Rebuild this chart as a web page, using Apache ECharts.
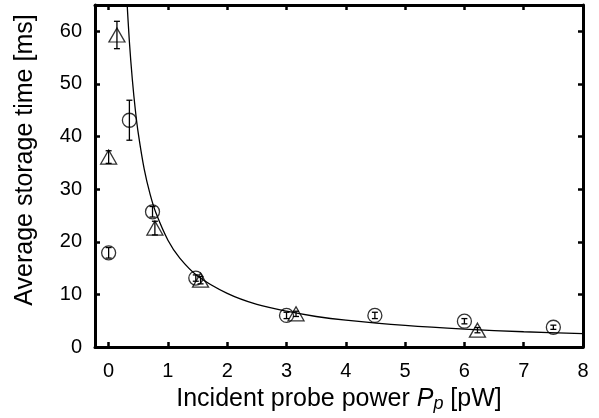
<!DOCTYPE html>
<html>
<head>
<meta charset="utf-8">
<script src="https://cdn.jsdelivr.net/npm/echarts@6/dist/echarts.min.js"></script>
<style>html,body{margin:0;padding:0;background:#fff}#c{width:599px;height:418px}</style>
</head>
<body>
<div id="c"></div>
<script>
// Circles (x, storage time, error)
var circleX = [0.0, 0.35, 0.74, 1.47, 3.0, 4.49, 6.0, 7.5];
var circleY = [17.9, 43.1, 25.7, 13.1, 6.0, 6.0, 4.9, 3.75];
var circleErr = [1.0, 3.8, 1.0, 0.6, 0.6, 0.6, 0.5, 0.4];
// Triangles
var triX = [0.0, 0.14, 0.78, 1.55, 3.16, 6.22];
var triY = [36.1, 59.3, 22.6, 12.7, 6.3, 3.2];
var triErr = [1.2, 2.6, 1.3, 0.7, 0.5, 0.5];
// Fit curve
var fitX = [0.30, 0.35, 0.4, 0.45, 0.5, 0.6, 0.7, 0.8, 1.0, 1.2, 1.5, 2.0, 2.5, 3.0, 3.5, 4.0, 5.0, 6.0, 7.0, 8.0];
var fitY = [67.5, 58, 50.8, 45.1, 40.6, 33.8, 29, 25.4, 20.3, 16.9, 13.5, 10.2, 8.1, 6.8, 5.8, 5.1, 4.1, 3.4, 2.9, 2.55];
// Tick labels
var xTicks = [0, 1, 2, 3, 4, 5, 6, 7, 8];
var yTicks = [0, 10, 20, 30, 40, 50, 60];
var yTitle = 'Average storage time [ms]';

var FONT = '"Liberation Sans", Arial, Helvetica, sans-serif';

function zip3(a, b, c) { return a.map(function (v, i) { return [v, b[i], c ? c[i] : 0]; }); }

function errRender(params, api) {
  var x = api.value(0), y = api.value(1), e = api.value(2);
  var t = api.coord([x, y + e]);
  var b = api.coord([x, y - e]);
  var hw = 3;
  var st = { stroke: '#000', lineWidth: 1.3 };
  return {
    type: 'group',
    children: [
      { type: 'line', shape: { x1: t[0], y1: t[1], x2: b[0], y2: b[1] }, style: st },
      { type: 'line', shape: { x1: t[0] - hw, y1: t[1], x2: t[0] + hw, y2: t[1] }, style: st },
      { type: 'line', shape: { x1: b[0] - hw, y1: b[1], x2: b[0] + hw, y2: b[1] }, style: st }
    ]
  };
}

var axLine = { show: true, onZero: false, lineStyle: { color: '#000', width: 3 } };
var axTick = function (vals) { return { show: true, inside: true, length: 5, customValues: vals, lineStyle: { color: '#000', width: 2.5 } }; };

var chart = echarts.init(document.getElementById('c'), null, { renderer: 'canvas' });
chart.setOption({
  animation: false,
  backgroundColor: '#fff',
  grid: { left: 95, right: 16, top: 5, bottom: 69, containLabel: false },
  graphic: [{
    type: 'text', x: 25, y: 160, rotation: Math.PI / 2,
    style: { text: yTitle, fill: '#000', font: '25px ' + FONT, align: 'center', verticalAlign: 'middle' }
  }],
  xAxis: [{
    type: 'value', min: -0.23, max: 8,
    axisLine: axLine, axisTick: axTick(xTicks),
    axisLabel: { customValues: xTicks, color: '#000', fontSize: 20, fontFamily: FONT, margin: 14 },
    splitLine: { show: false },
    name: 'Incident probe power {i|P}{s|p} [pW]',
    nameLocation: 'middle', nameGap: 38,
    nameTextStyle: {
      color: '#000', fontSize: 25, fontFamily: FONT,
      rich: {
        i: { fontStyle: 'italic', fontSize: 25, fontFamily: FONT, color: '#000' },
        s: { fontStyle: 'italic', fontSize: 18, fontFamily: FONT, color: '#000', padding: [10, 0, 0, 0] }
      }
    }
  }, {
    type: 'value', position: 'top', min: -0.23, max: 8,
    axisLine: axLine, axisTick: axTick(xTicks),
    axisLabel: { show: false }, splitLine: { show: false }
  }],
  yAxis: [{
    type: 'value', min: 0, max: 65,
    axisLine: axLine, axisTick: axTick(yTicks),
    axisLabel: { customValues: yTicks, color: '#000', fontSize: 20, fontFamily: FONT, margin: 13 },
    splitLine: { show: false }
  }, {
    type: 'value', position: 'right', min: 0, max: 65,
    axisLine: axLine, axisTick: axTick(yTicks),
    axisLabel: { show: false }, splitLine: { show: false }
  }],
  series: [
    {
      type: 'line', data: fitX.map(function (v, i) { return [v, fitY[i]]; }),
      smooth: 0.3, showSymbol: false, symbol: 'none', clip: true,
      lineStyle: { color: '#000', width: 1.3 }, z: 2
    },
    {
      type: 'scatter', data: zip3(circleX, circleY),
      symbol: 'circle', symbolSize: 14,
      itemStyle: { color: 'rgba(0,0,0,0)', borderColor: '#000', borderWidth: 1.3 }, z: 3
    },
    {
      type: 'scatter', data: zip3(triX, triY),
      symbol: 'triangle', symbolSize: [16, 14],
      itemStyle: { color: 'rgba(0,0,0,0)', borderColor: '#000', borderWidth: 1.3 }, z: 3
    },
    { type: 'custom', data: zip3(circleX, circleY, circleErr), renderItem: errRender, z: 4 },
    { type: 'custom', data: zip3(triX, triY, triErr), renderItem: errRender, z: 4 }
  ]
});
</script>
</body>
</html>
